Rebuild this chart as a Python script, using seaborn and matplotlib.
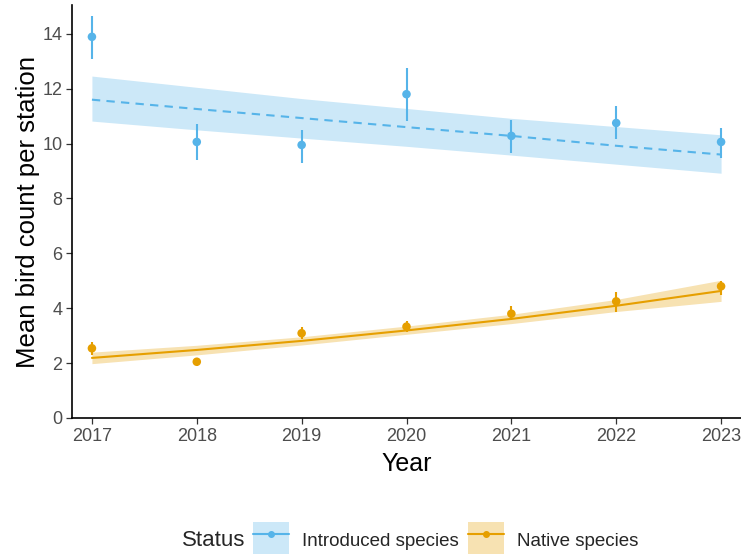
import numpy as np
import pandas as pd
import seaborn as sns
import matplotlib
matplotlib.use("Agg")
import matplotlib.pyplot as plt
from matplotlib.patches import Patch
from matplotlib.lines import Line2D

# Survey years
years = [2017, 2018, 2019, 2020, 2021, 2022, 2023]
status_labels = ["Introduced species", "Native species"]

# Observed yearly means with interval limits
intro_mean = [13.89, 10.06, 9.95, 11.80, 10.28, 10.75, 10.06]
intro_low = [13.09, 9.40, 9.30, 10.83, 9.66, 10.17, 9.48]
intro_high = [14.65, 10.70, 10.50, 12.76, 10.86, 11.37, 10.57]

native_mean = [2.54, 2.05, 3.09, 3.33, 3.80, 4.25, 4.80]
native_low = [2.30, 1.91, 2.88, 3.12, 3.58, 3.88, 4.48]
native_high = [2.77, 2.20, 3.31, 3.55, 4.08, 4.60, 5.00]

# Fitted trend and confidence band per year
intro_fit = [11.60, 11.26, 10.93, 10.60, 10.28, 9.92, 9.60]
intro_fit_low = [10.82, 10.50, 10.20, 9.90, 9.58, 9.25, 8.92]
intro_fit_high = [12.46, 12.05, 11.64, 11.28, 10.92, 10.62, 10.32]

native_fit = [2.19, 2.48, 2.81, 3.19, 3.61, 4.09, 4.63]
native_fit_low = [1.98, 2.30, 2.66, 3.05, 3.44, 3.88, 4.25]
native_fit_high = [2.40, 2.65, 2.96, 3.35, 3.78, 4.32, 5.02]

blue = "#56B4E9"
orange = "#E69F00"

obs = pd.DataFrame({
    "Year": years * 2,
    "Count": intro_mean + native_mean,
    "Low": intro_low + native_low,
    "High": intro_high + native_high,
    "Status": [status_labels[0]] * 7 + [status_labels[1]] * 7,
})
fit = pd.DataFrame({
    "Year": years * 2,
    "Fit": intro_fit + native_fit,
    "FitLow": intro_fit_low + native_fit_low,
    "FitHigh": intro_fit_high + native_fit_high,
    "Status": [status_labels[0]] * 7 + [status_labels[1]] * 7,
})

sns.set_theme(style="ticks")
plt.rcParams["font.family"] = ["Liberation Sans", "DejaVu Sans"]

fig = plt.figure(figsize=(7.41, 5.54), dpi=100)
ax = fig.add_axes([72 / 741, 1 - 418 / 554, 669 / 741, 413 / 554])

palette = {status_labels[0]: blue, status_labels[1]: orange}

for status, color in palette.items():
    f = fit[fit["Status"] == status]
    ax.fill_between(f["Year"], f["FitLow"], f["FitHigh"], color=color,
                    alpha=0.3, linewidth=0, zorder=1)

sns.lineplot(data=fit, x="Year", y="Fit", hue="Status", style="Status",
             palette=palette, dashes={status_labels[0]: (4, 3), status_labels[1]: ""},
             linewidth=1.5, legend=False, ax=ax, zorder=2)

for status, color in palette.items():
    o = obs[obs["Status"] == status]
    ax.vlines(o["Year"], o["Low"], o["High"], color=color, linewidth=1.5, zorder=3)

sns.scatterplot(data=obs, x="Year", y="Count", hue="Status", palette=palette,
                s=38, edgecolor="none", legend=False, ax=ax, zorder=4)

ax.set_xlim(2016.81, 2023.19)
ax.set_ylim(0, 15.05)
ax.set_xticks(years)
ax.set_yticks([0, 2, 4, 6, 8, 10, 12, 14])
ax.set_xlabel("Year", fontsize=18, color="black", labelpad=5)
ax.set_ylabel("Mean bird count per station", fontsize=18.5, color="black")
ax.yaxis.set_label_coords(-0.048, 0.5)
ax.tick_params(axis="both", labelsize=13, colors="#333333", length=4, width=0.9,
               labelcolor="#4d4d4d", pad=3)
for side in ["top", "right"]:
    ax.spines[side].set_visible(False)
for side in ["left", "bottom"]:
    ax.spines[side].set_color("black")
    ax.spines[side].set_linewidth(1.2)

# Legend: filled key with line and point, title placed to the left
handles = []
for status, color in palette.items():
    handles.append((Patch(facecolor=color, alpha=0.3, edgecolor="none"),
                    Line2D([0], [0], color=color, linewidth=1.5, marker="o",
                           markersize=4)))
fig.text(182 / 741, 1 - 540 / 554, "Status", fontsize=16, ha="left", va="center")
fig.legend(handles, status_labels, loc="center left",
           bbox_to_anchor=(253 / 741, 1 - 540 / 554),
           ncol=2, frameon=False, fontsize=13.5, handlelength=1.9, handleheight=2.6,
           handletextpad=0.7, columnspacing=0.5, borderpad=0, borderaxespad=0)

fig.savefig("out.png", dpi=100)
